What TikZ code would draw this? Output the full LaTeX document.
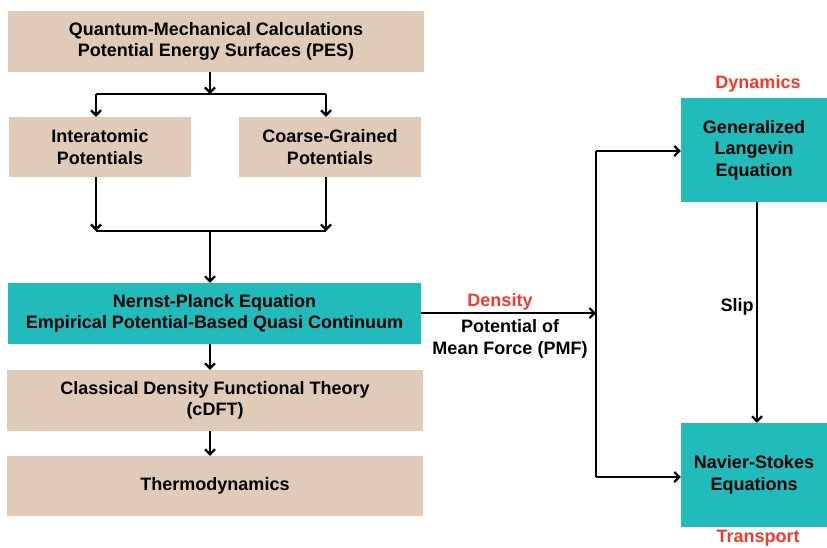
\documentclass[tikz,border=0pt]{standalone}
\usepackage{fontspec}
\setmainfont{Liberation Sans}
\usetikzlibrary{arrows.meta}
\definecolor{tanbox}{RGB}{224,203,185}
\definecolor{tealbox}{RGB}{34,187,187}
\definecolor{redlab}{RGB}{240,58,46}
\begin{document}
\begin{tikzpicture}[x=1pt,y=-1pt,
  box/.style={fill=tanbox,draw=none,inner sep=0pt,align=center,font=\fontsize{18}{21.5}\selectfont\bfseries},
  tbox/.style={fill=tealbox,draw=none,inner sep=0pt,align=center,font=\fontsize{18}{21.5}\selectfont\bfseries},
  lab/.style={align=center,font=\fontsize{18}{22}\selectfont\bfseries},
  rlab/.style={text=redlab,font=\fontsize{18}{22}\selectfont\bfseries},
  conn/.style={line width=2.2pt},
  arr/.style={line width=2.2pt,-{Straight Barb[length=5pt,width=10pt,line width=2.2pt]}}
]
\useasboundingbox (0,0) rectangle (827,547);
% left column boxes
\node[box,minimum width=416pt,minimum height=61pt] (qm) at (216,41.5) {Quantum-Mechanical Calculations\\Potential Energy Surfaces (PES)};
\node[box,minimum width=182pt,minimum height=60pt] (ia) at (100,147) {Interatomic\\Potentials};
\node[box,minimum width=182pt,minimum height=60pt] (cg) at (330,147) {Coarse-Grained\\Potentials};
\node[tbox,minimum width=413pt,minimum height=61pt] (np) at (214.5,313.5) {Nernst-Planck Equation\\Empirical Potential-Based Quasi Continuum};
\node[box,minimum width=416pt,minimum height=61pt] (cd) at (215,400.5) {Classical Density Functional Theory\\(cDFT)};
\node[box,minimum width=416pt,minimum height=60pt] (th) at (215,486) {Thermodynamics};
% right column boxes
\node[tbox,minimum width=146pt,minimum height=104pt] (gle) at (754,150) {Generalized\\Langevin\\Equation};
\node[tbox,minimum width=146pt,minimum height=104pt] (ns) at (754,475) {Navier-Stokes\\Equations};
% labels
\node[rlab] (dyn) at (758,84) {Dynamics};
\node[rlab,inner sep=1pt] (tr) at (758,538) {Transport};
\node[rlab] (den) at (500,302) {Density};
\node[lab] (pmf) at (510,339) {Potential of\\Mean Force (PMF)};
\node[lab] (slip) at (737,307) {Slip};
% coordinates
\coordinate (s1) at (210,94);
\coordinate (l1) at (96,94);
\coordinate (r1) at (326,94);
\coordinate (s2) at (210,231);
\coordinate (l2) at (96,231);
\coordinate (r2) at (326,231);
\coordinate (jt) at (596,151);
\coordinate (jm) at (596,313);
\coordinate (jb) at (596,477);
% connectors top
\draw[arr] (qm.south -| s1) -- (s1);
\draw[conn] (l1) -- (r1);
\draw[arr] (l1) -- (l1 |- ia.north);
\draw[arr] (r1) -- (r1 |- cg.north);
\draw[arr] (l1 |- ia.south) -- (l2);
\draw[arr] (r1 |- cg.south) -- (r2);
\draw[conn] (l2) -- (r2);
\draw[arr] (s2) -- (s2 |- np.north);
\draw[arr] (np.south -| s1) -- (s1 |- cd.north);
\draw[arr] (cd.south -| s1) -- (s1 |- th.north);
% right connectors
\draw[arr] (np.east |- jm) -- (jm);
\draw[conn] (jt) -- (jb);
\draw[arr] (jt) -- (jt -| gle.west);
\draw[arr] (jb) -- (jb -| ns.west);
\draw[arr] (gle.south -| 757,0) -- (ns.north -| 757,0);
\end{tikzpicture}
\end{document}
